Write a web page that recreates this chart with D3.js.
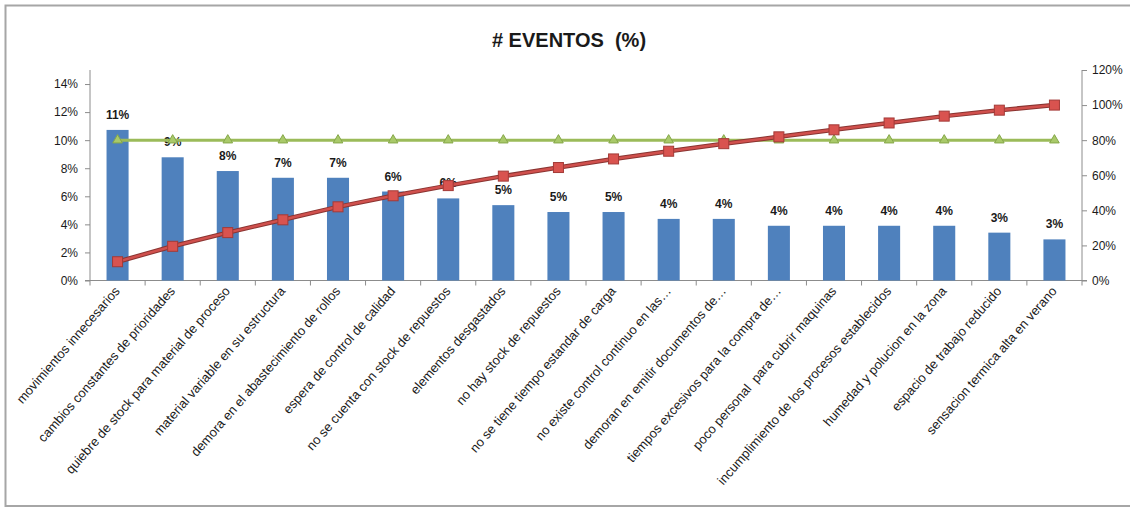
<!DOCTYPE html>
<html>
<head>
<meta charset="utf-8">
<script src="https://cdn.jsdelivr.net/npm/d3@7"></script>
<style>
  html, body { margin: 0; padding: 0; background: #fff; }
  svg { display: block; }
  text { font-family: "Liberation Sans", Arial, sans-serif; fill: #1a1a1a; }
</style>
</head>
<body>
<svg id="chart" width="1130" height="507"></svg>
<script>
// Event categories (Pareto order)
const categories = [
  "movimientos innecesarios",
  "cambios constantes de prioridades",
  "quiebre de stock para material de proceso",
  "material variable en su estructura",
  "demora en el abastecimiento de rollos",
  "espera de control de calidad",
  "no se cuenta con stock de repuestos",
  "elementos desgastados",
  "no hay stock de repuestos",
  "no se tiene tiempo estandar de carga",
  "no existe control continuo en las…",
  "demoran en emitir documentos de…",
  "tiempos excesivos para la compra de…",
  "poco personal  para cubrir maquinas",
  "incumplimiento de los procesos establecidos",
  "humedad y polucion en la zona",
  "espacio de trabajo reducido",
  "sensacion termica alta en verano"
];

// Share of events per category
const eventShare = [
  0.1073, 0.0878, 0.0780, 0.0732, 0.0732, 0.0634, 0.0585, 0.0537, 0.0488,
  0.0488, 0.0439, 0.0439, 0.0390, 0.0390, 0.0390, 0.0390, 0.0341, 0.0293
];

// Cumulative share (Pareto curve)
const cumulativeShare = [
  0.107, 0.195, 0.273, 0.346, 0.420, 0.483, 0.541, 0.595, 0.644,
  0.693, 0.737, 0.780, 0.819, 0.859, 0.898, 0.937, 0.971, 1.000
];

// 80% reference line
const thresholdShare = categories.map(() => 0.80);

const leftTicks = [0, 0.02, 0.04, 0.06, 0.08, 0.10, 0.12, 0.14];
const rightTicks = [0, 0.2, 0.4, 0.6, 0.8, 1.0, 1.2];

const svg = d3.select("#chart");
const W = 1130, H = 507;
const plot = { left: 90, right: 1082, top: 70, bottom: 280.5 };

// chart frame
svg.append("rect").attr("x", 5.5).attr("y", 5.5).attr("width", W + 10).attr("height", H - 6.5)
  .attr("fill", "#fff").attr("stroke", "#a6a6a6").attr("stroke-width", 2);

svg.append("text")
  .attr("x", 569).attr("y", 47)
  .attr("text-anchor", "middle")
  .attr("font-size", 20).attr("font-weight", "bold")
  .style("white-space", "pre")
  .text("# EVENTOS  (%)");

const x = d3.scaleBand().domain(categories).range([plot.left, plot.right]).paddingInner(0.6).paddingOuter(0.3);
const yL = d3.scaleLinear().domain([0, 0.15]).range([plot.bottom, plot.top]);
const yR = d3.scaleLinear().domain([0, 1.2]).range([plot.bottom, plot.top]);
const cx = d => x(d) + x.bandwidth() / 2;

const pct = d3.format(".0%");
const axisColor = "#8c8c8c";

// left axis
const gL = svg.append("g").attr("transform", `translate(${plot.left},0)`)
  .call(d3.axisLeft(yL).tickValues(leftTicks).tickFormat(pct).tickSize(5).tickPadding(7));
gL.select(".domain").attr("stroke", axisColor).attr("d", `M-5,${plot.bottom}H0V${plot.top}`);
gL.selectAll(".tick line").attr("stroke", axisColor);
gL.selectAll(".tick text").attr("font-size", 12).attr("fill", "#1a1a1a");

// right axis
const gR = svg.append("g").attr("transform", `translate(${plot.right},0)`)
  .call(d3.axisRight(yR).tickValues(rightTicks).tickFormat(pct).tickSize(5).tickPadding(5));
gR.select(".domain").attr("stroke", axisColor).attr("d", `M5,${plot.bottom}H0V${plot.top}`);
gR.selectAll(".tick line").attr("stroke", axisColor);
gR.selectAll(".tick text").attr("font-size", 12).attr("fill", "#1a1a1a");

// category axis: ticks between categories
const boundaries = d3.range(categories.length + 1).map(i => plot.left + i * (plot.right - plot.left) / categories.length);
const gX = svg.append("g");
gX.append("line").attr("x1", plot.left).attr("x2", plot.right)
  .attr("y1", plot.bottom).attr("y2", plot.bottom).attr("stroke", axisColor);
gX.selectAll("line.tk").data(boundaries).join("line").attr("class", "tk")
  .attr("x1", d => d).attr("x2", d => d)
  .attr("y1", plot.bottom).attr("y2", plot.bottom + 5).attr("stroke", axisColor);

gX.selectAll("text.cat").data(categories).join("text").attr("class", "cat")
  .attr("font-size", 13)
  .attr("text-anchor", "end")
  .attr("transform", d => `translate(${cx(d) + 3},${plot.bottom + 11}) rotate(-49)`)
  .style("white-space", "pre")
  .text(d => d);

// bars
svg.append("g").selectAll("rect").data(categories).join("rect")
  .attr("x", d => x(d)).attr("width", x.bandwidth())
  .attr("y", (d, i) => yL(eventShare[i]))
  .attr("height", (d, i) => plot.bottom - yL(eventShare[i]))
  .attr("fill", "#4f81bd");

// bar value labels
svg.append("g").selectAll("text").data(categories).join("text")
  .attr("x", d => cx(d))
  .attr("y", (d, i) => yL(eventShare[i]) - 11)
  .attr("text-anchor", "middle")
  .attr("font-size", 12).attr("font-weight", "bold")
  .text((d, i) => pct(eventShare[i]));

// 80% threshold line with triangle markers
const lineThr = d3.line().x((d, i) => cx(categories[i])).y(d => yR(d));
svg.append("path").datum(thresholdShare).attr("d", lineThr)
  .attr("fill", "none").attr("stroke", "#9bbb59").attr("stroke-width", 3);
svg.append("g").selectAll("path").data(thresholdShare).join("path")
  .attr("d", d3.symbol(d3.symbolTriangle, 40))
  .attr("transform", (d, i) => `translate(${cx(categories[i])},${yR(d)})`)
  .attr("fill", "#a9c96a").attr("stroke", "#86a84a").attr("stroke-width", 1);

// cumulative curve with square markers
const lineCum = d3.line().x((d, i) => cx(categories[i])).y(d => yR(d));
svg.append("path").datum(cumulativeShare).attr("d", lineCum)
  .attr("fill", "none").attr("stroke", "#8a3431").attr("stroke-width", 4.5);
svg.append("path").datum(cumulativeShare).attr("d", lineCum)
  .attr("fill", "none").attr("stroke", "#d0504d").attr("stroke-width", 2.5);
svg.append("g").selectAll("rect").data(cumulativeShare).join("rect")
  .attr("x", (d, i) => cx(categories[i]) - 5).attr("y", d => yR(d) - 5)
  .attr("width", 10).attr("height", 10)
  .attr("fill", "#d9534f").attr("stroke", "#a33a37").attr("stroke-width", 1);
</script>
</body>
</html>
